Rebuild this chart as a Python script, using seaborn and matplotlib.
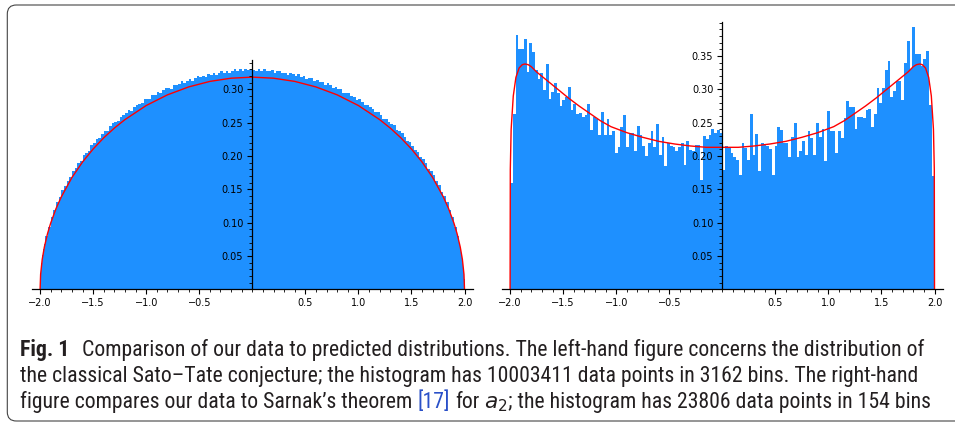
import os
import numpy as np
import pandas as pd
import seaborn as sns
import matplotlib.pyplot as plt
from matplotlib import font_manager
from matplotlib.patches import FancyBboxPatch
from matplotlib.ticker import FixedLocator, FuncFormatter, MultipleLocator

# ---- left panel: classical Sato-Tate (bins coarsened, finer at the ends)
st_fine = [-2.0, -1.995, -1.99, -1.98, -1.97, -1.96, -1.95, -1.925, -1.9, -1.875]
st_edges = st_fine + list(np.round(np.arange(-1.85, 1.8501, 0.025), 4)) + [-e for e in reversed(st_fine)]
st_heights = [
    # -2.0 .. -1.85
    0.016, 0.028, 0.040, 0.051, 0.060, 0.068, 0.080, 0.094, 0.108, 0.119,
    # -1.85 .. 0 (step 0.025)
    0.131, 0.138, 0.149, 0.155, 0.163, 0.168, 0.178, 0.182, 0.189, 0.193,
    0.201, 0.205, 0.208, 0.216, 0.219, 0.225, 0.227, 0.233, 0.238, 0.238,
    0.245, 0.249, 0.251, 0.253, 0.259, 0.261, 0.265, 0.269, 0.267, 0.273,
    0.277, 0.278, 0.279, 0.285, 0.286, 0.286, 0.292, 0.292, 0.296, 0.295,
    0.299, 0.302, 0.302, 0.301, 0.307, 0.307, 0.308, 0.312, 0.310, 0.313,
    0.316, 0.313, 0.317, 0.320, 0.318, 0.320, 0.319, 0.323, 0.322, 0.325,
    0.322, 0.325, 0.328, 0.325, 0.328, 0.325, 0.328, 0.330, 0.328, 0.330,
    0.327, 0.331, 0.329, 0.330,
    # 0 .. 1.85
    0.329, 0.327, 0.330, 0.328, 0.331, 0.327, 0.328, 0.329, 0.324, 0.327,
    0.328, 0.325, 0.325, 0.322, 0.325, 0.323, 0.320, 0.323, 0.319, 0.320,
    0.315, 0.317, 0.317, 0.313, 0.314, 0.311, 0.311, 0.306, 0.309, 0.306,
    0.302, 0.304, 0.300, 0.300, 0.294, 0.295, 0.294, 0.290, 0.288, 0.284,
    0.285, 0.281, 0.276, 0.276, 0.274, 0.270, 0.266, 0.266, 0.262, 0.255,
    0.256, 0.251, 0.248, 0.246, 0.239, 0.237, 0.234, 0.228, 0.222, 0.221,
    0.215, 0.209, 0.206, 0.199, 0.195, 0.190, 0.181, 0.177, 0.171, 0.162,
    0.156, 0.146, 0.140, 0.131,
    # 1.85 .. 2.0
    0.119, 0.108, 0.094, 0.080, 0.068, 0.060, 0.051, 0.040, 0.028, 0.016,
]
st_curve_x = [-2.0, -1.995, -1.98, -1.96, -1.93, -1.9, -1.85, -1.8, -1.7, -1.6,
              -1.5, -1.4, -1.3, -1.2, -1.0, -0.8, -0.6, -0.4, -0.2, 0.0,
              0.2, 0.4, 0.6, 0.8, 1.0, 1.2, 1.3, 1.4, 1.5, 1.6,
              1.7, 1.8, 1.85, 1.9, 1.93, 1.96, 1.98, 1.995, 2.0]
st_curve_y = [0.0, 0.0225, 0.0449, 0.0633, 0.0835, 0.0994, 0.121, 0.1387, 0.1677, 0.191,
              0.2105, 0.2273, 0.2419, 0.2546, 0.2757, 0.2917, 0.3036, 0.3119, 0.3167, 0.3183,
              0.3167, 0.3119, 0.3036, 0.2917, 0.2757, 0.2546, 0.2419, 0.2273, 0.2105, 0.191,
              0.1677, 0.1387, 0.121, 0.0994, 0.0835, 0.0633, 0.0449, 0.0225, 0.0]

# ---- right panel: a2 data vs Sarnak (154 bins on [-2, 2])
a2_edges = list(np.linspace(-2, 2, 155))
a2_heights = [
    0.160, 0.263, 0.381, 0.360, 0.360, 0.375, 0.326, 0.370, 0.356, 0.329,
    0.316, 0.324, 0.299, 0.338, 0.286, 0.296, 0.309, 0.295, 0.275, 0.284,
    0.288, 0.304, 0.269, 0.278, 0.263, 0.264, 0.259, 0.261, 0.278, 0.239,
    0.259, 0.255, 0.231, 0.266, 0.231, 0.256, 0.231, 0.237, 0.204, 0.214,
    0.243, 0.261, 0.214, 0.235, 0.234, 0.207, 0.245, 0.232, 0.215, 0.200,
    0.220, 0.237, 0.214, 0.248, 0.202, 0.229, 0.185, 0.219, 0.215, 0.213,
    0.207, 0.213, 0.220, 0.187, 0.222, 0.209, 0.208, 0.217, 0.217, 0.164,
    0.230, 0.226, 0.231, 0.241, 0.234, 0.239, 0.235, 0.179, 0.215, 0.212,
    0.205, 0.199, 0.194, 0.172, 0.220, 0.212, 0.194, 0.263, 0.202, 0.233,
    0.177, 0.220, 0.217, 0.215, 0.210, 0.172, 0.215, 0.243, 0.239, 0.220,
    0.219, 0.199, 0.229, 0.250, 0.199, 0.207, 0.223, 0.202, 0.238, 0.227,
    0.202, 0.250, 0.229, 0.241, 0.192, 0.267, 0.237, 0.237, 0.204, 0.238,
    0.227, 0.257, 0.283, 0.274, 0.273, 0.240, 0.259, 0.258, 0.257, 0.269,
    0.270, 0.243, 0.263, 0.302, 0.280, 0.302, 0.329, 0.343, 0.288, 0.298,
    0.313, 0.313, 0.284, 0.339, 0.373, 0.330, 0.393, 0.353, 0.353, 0.335,
    0.345, 0.358, 0.276, 0.170,
]
sarnak_x = [-2.0, -1.998, -1.99, -1.97, -1.945, -1.915, -1.885, -1.86, -1.83, -1.8,
            -1.75, -1.65, -1.55, -1.45, -1.35, -1.25, -1.15, -1.05, -0.9, -0.75,
            -0.6, -0.45, -0.3, -0.15, 0.0,
            0.15, 0.3, 0.45, 0.6, 0.75, 0.9, 1.05, 1.15, 1.25, 1.35,
            1.45, 1.55, 1.65, 1.75, 1.8, 1.83, 1.86, 1.885, 1.915, 1.945,
            1.97, 1.99, 1.998, 2.0]
sarnak_y = [0.0, 0.18, 0.24, 0.29, 0.318, 0.332, 0.337, 0.338, 0.337, 0.334,
            0.326, 0.313, 0.300, 0.287, 0.275, 0.264, 0.253, 0.244, 0.235, 0.228,
            0.222, 0.218, 0.215, 0.213, 0.213,
            0.213, 0.215, 0.218, 0.222, 0.228, 0.235, 0.244, 0.253, 0.264, 0.275,
            0.287, 0.300, 0.313, 0.326, 0.334, 0.337, 0.338, 0.337, 0.332, 0.318,
            0.29, 0.24, 0.18, 0.0]

x_ticks = [-2.0, -1.5, -1.0, -0.5, 0.5, 1.0, 1.5, 2.0]
y_ticks = [0.05, 0.10, 0.15, 0.20, 0.25, 0.30, 0.35]

BLUE = "#1e90ff"
W, H = 955, 423

fig = plt.figure(figsize=(W / 100, H / 100), dpi=100)
fig.patch.set_facecolor("white")


def px_axes(left, top, width, height):
    return fig.add_axes([left / W, 1 - (top + height) / H, width / W, height / H])


def style_axes(ax, ytop):
    ax.set_xlim(-2.08, 2.08)
    ax.set_ylim(0, ytop)
    ax.set_xlabel("")
    ax.set_ylabel("")
    ax.set_facecolor("none")
    for s in ["top", "right"]:
        ax.spines[s].set_visible(False)
    ax.spines["left"].set_position(("data", 0))
    for s in ["left", "bottom"]:
        ax.spines[s].set_linewidth(0.9)
    ax.set_axisbelow(False)
    ax.xaxis.set_major_locator(FixedLocator(x_ticks))
    ax.xaxis.set_major_formatter(FuncFormatter(lambda v, p: f"{v:.1f}".replace("-", "\u2212")))
    ax.yaxis.set_major_locator(FixedLocator([t for t in y_ticks if t < ytop]))
    ax.yaxis.set_major_formatter(FuncFormatter(lambda v, p: f"{v:.2f}"))
    ax.xaxis.set_minor_locator(MultipleLocator(0.1))
    ax.yaxis.set_minor_locator(MultipleLocator(0.01))
    ax.tick_params(which="major", length=3.5, width=0.8, labelsize=7, pad=3, color="black")
    ax.tick_params(which="minor", length=2, width=0.6, color="black")


def draw_hist(ax, edges, heights):
    centers = [(a + b) / 2 for a, b in zip(edges[:-1], edges[1:])]
    df = pd.DataFrame({"x": centers, "w": heights})
    sns.histplot(data=df, x="x", weights="w", bins=edges, ax=ax, color=BLUE,
                 alpha=1, linewidth=0, antialiased=False)


# left panel
ax1 = px_axes(31.6, 60, 441.4, 229.3)
draw_hist(ax1, st_edges, st_heights)
sns.lineplot(x=st_curve_x, y=st_curve_y, ax=ax1, color="red", linewidth=1.0,
             sort=False, estimator=None)
style_axes(ax1, 0.344)

# right panel
ax2 = px_axes(501.6, 22, 441.4, 267.3)
draw_hist(ax2, a2_edges, a2_heights)
sns.lineplot(x=sarnak_x, y=sarnak_y, ax=ax2, color="red", linewidth=1.0,
             sort=False, estimator=None)
style_axes(ax2, 0.401)

# frame around the figure
frame = FancyBboxPatch((0.073, 0.02), 10.0, 4.16,
                       boxstyle="round,pad=0,rounding_size=0.09",
                       transform=fig.dpi_scale_trans, facecolor="none",
                       edgecolor="#444444", linewidth=0.8, clip_on=False)
fig.patches.append(frame)


# caption font: prefer a narrow sans like the journal's
def pick_caption_font():
    fonts = font_manager.fontManager.ttflist
    for want in ["Liberation Sans Narrow", "Roboto Condensed", "Open Sans Condensed"]:
        if any(f.name == want for f in fonts):
            return want, "normal"
    if any("Condensed" in os.path.basename(f.fname) and f.name == "DejaVu Sans" for f in fonts):
        return "DejaVu Sans", "condensed"
    return "Liberation Sans", "normal"


cap_font, cap_stretch = pick_caption_font()
renderer = fig.canvas.get_renderer()


def measure(txt, size, **kw):
    t = fig.text(0, 0, txt, fontsize=size, family=cap_font, fontstretch=cap_stretch, **kw)
    w = t.get_window_extent(renderer).width
    t.remove()
    return w


line2 = "the classical Sato\u2013Tate conjecture; the histogram has 10003411 data points in 3162 bins. The right-hand"
cap_size = 12 * 895 / measure(line2, 12)
space = measure("a a", cap_size) - measure("aa", cap_size)


def write_line(x, y, pieces):
    for txt, kw in pieces:
        if txt == " ":
            x += space * kw.get("n", 1)
            continue
        t = fig.text(x / W, 1 - y / H, txt, fontsize=cap_size, family=cap_font,
                     fontstretch=cap_stretch, va="baseline", ha="left",
                     color=kw.get("color", "#231f20"),
                     fontweight=kw.get("weight", "normal"))
        x += t.get_window_extent(renderer).width


write_line(20, 356, [
    ("Fig. 1", {"weight": "bold"}), (" ", {"n": 2.6}),
    ("Comparison of our data to predicted distributions. The left-hand figure concerns the distribution of", {}),
])
write_line(20, 382, [(line2, {})])
write_line(20, 408, [
    ("figure compares our data to Sarnak\u2019s theorem", {}), (" ", {}),
    ("[17]", {"color": "#2a50c8"}), (" ", {}), ("for", {}), (" ", {}),
    ("$a_2$", {}),
    ("; the histogram has 23806 data points in 154 bins", {}),
])

fig.savefig("out.png", dpi=100, facecolor="white")
